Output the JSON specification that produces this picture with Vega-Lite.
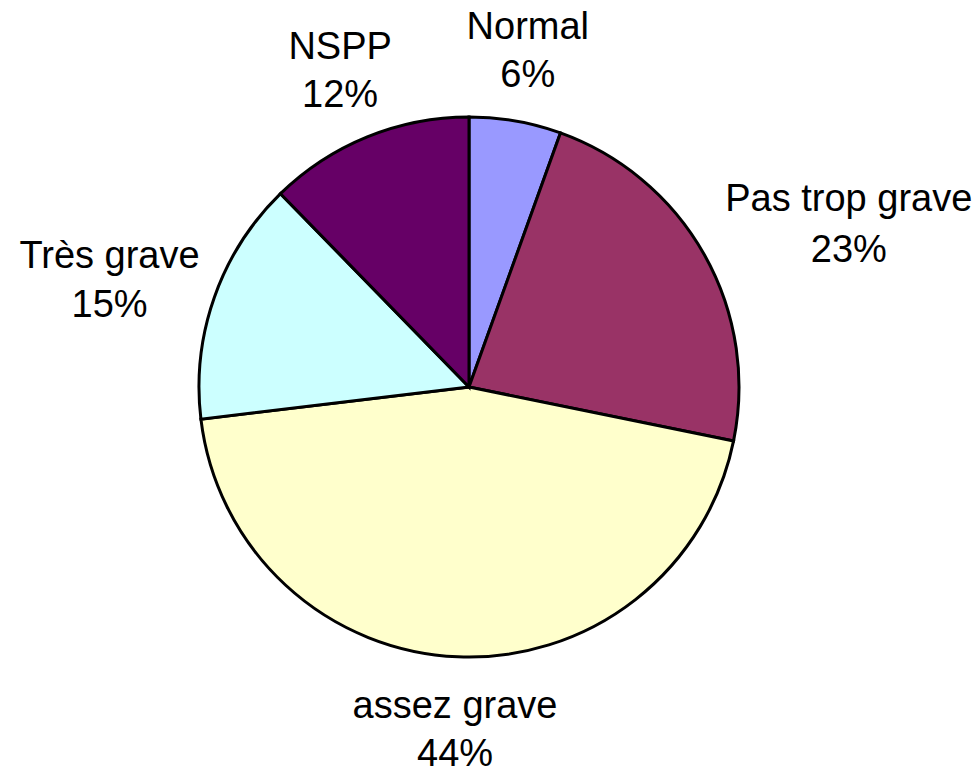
{
  "$schema": "https://vega.github.io/schema/vega-lite/v6.json",
  "autosize": {"type": "none"},
  "width": 938,
  "height": 774,
  "padding": {"left": 0, "top": 0, "right": 42, "bottom": 0},
  "background": "white",
  "config": {"view": {"stroke": null}},
  "data": {
    "values": [
      {"category": "Normal", "value": 5.5, "label": "6%"},
      {"category": "Pas trop grave", "value": 22.7, "label": "23%"},
      {"category": "assez grave", "value": 44.9, "label": "44%"},
      {"category": "Très grave", "value": 14.6, "label": "15%"},
      {"category": "NSPP", "value": 12.3, "label": "12%"}
    ]
  },
  "transform": [
    {"stack": "value", "groupby": [], "as": ["v0", "v1"]},
    {"calculate": "(datum.v0 + datum.v1) / 2", "as": "mid"},
    {"calculate": "[datum.category, datum.label]", "as": "txt"}
  ],
  "layer": [
    {
      "mark": {"type": "arc", "outerRadius": 270, "stroke": "black", "strokeWidth": 3},
      "encoding": {
        "theta": {"field": "v0", "type": "quantitative", "scale": {"domain": [0, 100]}},
        "theta2": {"field": "v1"},
        "color": {
          "field": "category",
          "type": "nominal",
          "scale": {
            "domain": ["Normal", "Pas trop grave", "assez grave", "Très grave", "NSPP"],
            "range": ["#9999FF", "#993366", "#FFFFCC", "#CCFFFF", "#660066"]
          },
          "legend": null
        }
      }
    },
    {
      "transform": [{"filter": "datum.mid > 10 && datum.mid < 40"}],
      "mark": {"type": "text", "radius": 290, "dx": 127, "dy": -45, "align": "center", "baseline": "middle", "font": "Liberation Sans", "fontSize": 38, "lineHeight": 51, "color": "black"},
      "encoding": {
        "theta": {"field": "mid", "type": "quantitative", "scale": {"domain": [0, 100]}},
        "text": {"field": "txt"}
      }
    },
    {
      "transform": [{"filter": "datum.mid > 60 && datum.mid < 90"}],
      "mark": {"type": "text", "radius": 290, "dx": -86, "dy": -33, "align": "center", "baseline": "middle", "font": "Liberation Sans", "fontSize": 38, "lineHeight": 49, "color": "black"},
      "encoding": {
        "theta": {"field": "mid", "type": "quantitative", "scale": {"domain": [0, 100]}},
        "text": {"field": "txt"}
      }
    },
    {
      "transform": [{"filter": "!(datum.mid > 10 && datum.mid < 40) && !(datum.mid > 60 && datum.mid < 90)"}],
      "mark": {"type": "text", "radius": 342, "dy": -22, "align": "center", "baseline": "middle", "font": "Liberation Sans", "fontSize": 38, "lineHeight": 48, "color": "black"},
      "encoding": {
        "theta": {"field": "mid", "type": "quantitative", "scale": {"domain": [0, 100]}},
        "text": {"field": "txt"}
      }
    }
  ]
}
